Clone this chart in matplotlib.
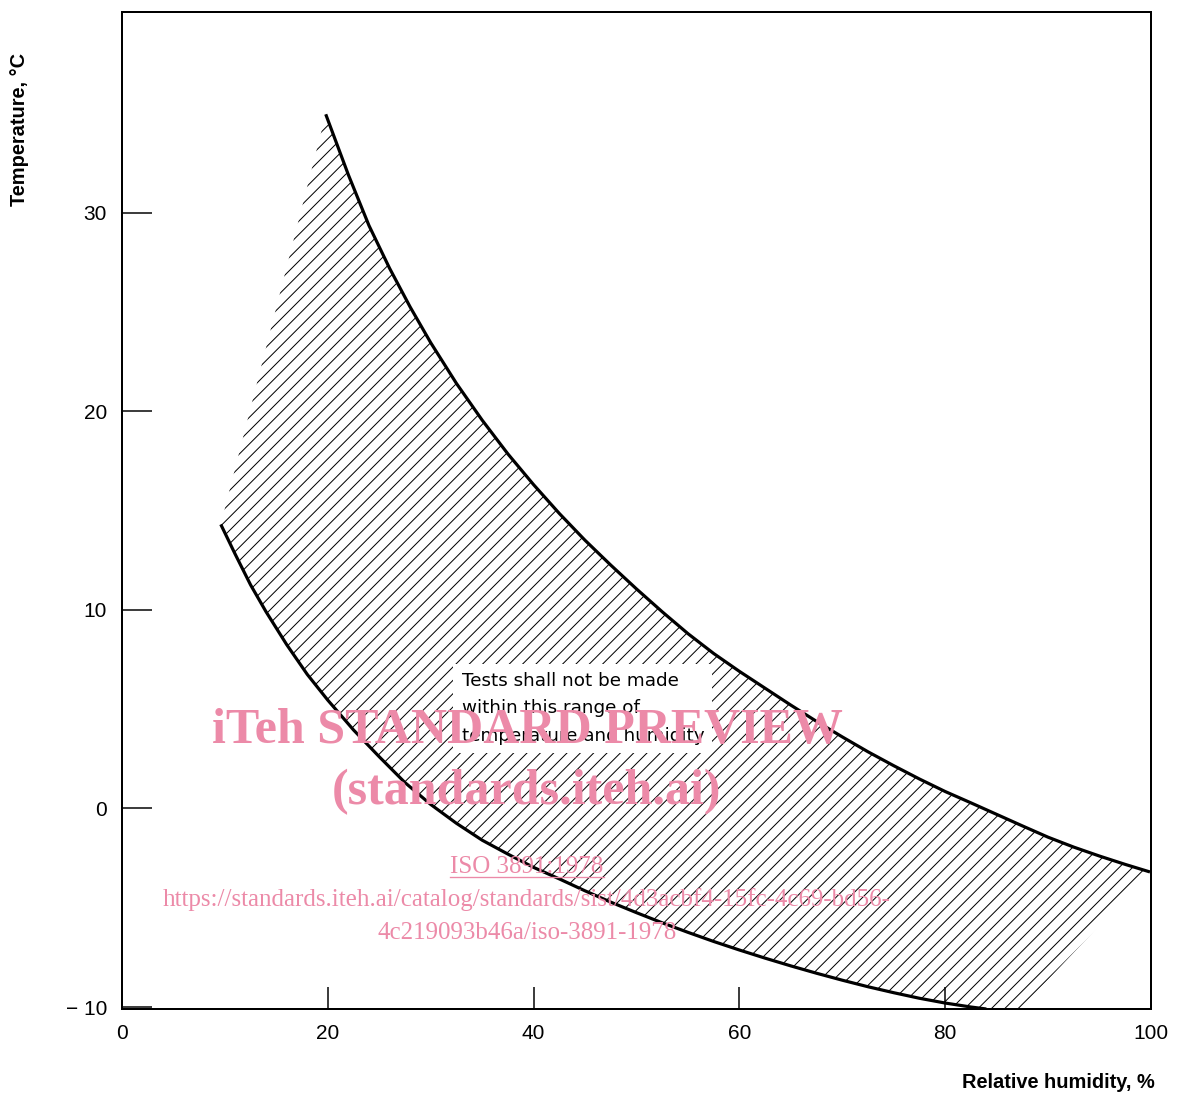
import matplotlib
matplotlib.use("Agg")
import matplotlib.pyplot as plt
from matplotlib.lines import Line2D

# upper boundary
upper_rh = [19.8, 22.0, 24.0, 26.0, 28.0, 30.0, 32.5, 35.0, 37.5, 40.0, 42.5, 45.0,
            47.5, 50.0, 52.5, 55.0, 57.5, 60.0, 62.5, 65.0, 67.5, 70.0, 72.5, 75.0,
            77.5, 80.0, 82.5, 85.0, 87.5, 90.0, 92.5, 95.0, 97.5, 99.9]
upper_t = [34.95, 31.9, 29.35, 27.2, 25.25, 23.45, 21.4, 19.55, 17.85, 16.3, 14.85, 13.5,
           12.25, 11.05, 9.9, 8.8, 7.8, 6.9, 6.05, 5.2, 4.38, 3.6, 2.85, 2.15,
           1.48, 0.85, 0.28, -0.3, -0.88, -1.45, -1.95, -2.4, -2.82, -3.2]

# lower boundary
lower_rh = [9.6, 11.0, 12.5, 14.0, 16.0, 18.0, 20.0, 22.5, 25.0, 27.5, 30.0, 32.5,
            35.0, 37.5, 40.0, 42.5, 45.0, 47.5, 50.0, 52.5, 55.0, 57.5, 60.0, 62.5,
            65.0, 67.5, 70.0, 72.5, 75.0, 77.5, 80.0, 82.5, 84.0]
lower_t = [14.3, 12.8, 11.25, 9.9, 8.25, 6.75, 5.45, 3.95, 2.6, 1.3, 0.2, -0.75,
           -1.6, -2.3, -2.97, -3.55, -4.15, -4.72, -5.25, -5.76, -6.24, -6.7, -7.13, -7.54,
           -7.93, -8.3, -8.65, -8.98, -9.28, -9.56, -9.8, -10.0, -10.1]

# where hatching meets the bottom edge on the right
hatch_end_rh = 87.3
hatch_end_t = -10.1

xticks = [0, 20, 40, 60, 80, 100]
yticks = [-10, 0, 10, 20, 30]
ytick_labels = ["\u2212 10", "0", "10", "20", "30"]

note = "Tests shall not be made\nwithin this range of\ntemperature and humidity"
pink = "#EC8AA8"

plt.rcParams["hatch.linewidth"] = 0.6
plt.rcParams["font.family"] = ["Liberation Sans", "DejaVu Sans"]

W, H, DPI = 1191, 1093, 120
fig = plt.figure(figsize=(W / DPI, H / DPI), dpi=DPI)
ax = fig.add_axes([122 / W, 1 - 1009 / H, (1151 - 122) / W, (1009 - 12) / H])

# hatched band
poly_x = upper_rh + [hatch_end_rh] + lower_rh[::-1]
poly_y = upper_t + [hatch_end_t] + lower_t[::-1]
ax.fill(poly_x, poly_y, facecolor="none", edgecolor="black", linewidth=0, hatch="///")

ax.plot(upper_rh, upper_t, color="black", lw=1.9, solid_capstyle="butt", solid_joinstyle="round")
ax.plot(lower_rh, lower_t, color="black", lw=1.9, solid_capstyle="butt", solid_joinstyle="round")

ax.set_xlim(0, 100)
ax.set_ylim(-10.1, 40.1)
ax.set_xticks(xticks)
ax.set_xticklabels([str(v) for v in xticks])
ax.set_yticks(yticks)
ax.set_yticklabels(ytick_labels)
ax.tick_params(axis="y", direction="in", length=18, width=0.9, labelsize=12.5, pad=9)
ax.tick_params(axis="x", direction="in", length=13, width=0.9, labelsize=12.5, pad=9)
for s in ax.spines.values():
    s.set_linewidth(1.2)

ax.text(33.0, 6.85, note, ha="left", va="top", fontsize=11, linespacing=1.65,
        family=["DejaVu Sans"],
        bbox=dict(facecolor="white", edgecolor="none", pad=5))

fig.text(20 / W, 1 - 206 / H, "Temperature, \u00b0C", rotation=90, ha="center",
         va="bottom", fontsize=12, fontweight="bold")
fig.text(1155 / W, 1 - 1083 / H, "Relative humidity, %", ha="right", va="center",
         fontsize=12, fontweight="bold")

# watermark
serif = ["Liberation Serif", "DejaVu Serif"]
cx = 527 / W
fig.text(cx, 1 - 731 / H, "iTeh STANDARD PREVIEW", ha="center", va="center",
         fontsize=30, fontweight="bold", color=pink, family=serif)
fig.text(cx, 1 - 792 / H, "(standards.iteh.ai)", ha="center", va="center",
         fontsize=30, fontweight="bold", color=pink, family=serif)
iso = fig.text(cx, 1 - 867 / H, "ISO 3891:1978", ha="center", va="center",
               fontsize=15, color=pink, family=serif)
fig.text(cx, 1 - 900 / H,
         "https://standards.iteh.ai/catalog/standards/sist/4d3acbf4-15fc-4c69-bd56-",
         ha="center", va="center", fontsize=15, color=pink, family=serif)
fig.text(cx, 1 - 933 / H, "4c219093b46a/iso-3891-1978", ha="center", va="center",
         fontsize=15, color=pink, family=serif)

fig.canvas.draw()
bb = iso.get_window_extent()
fy = (bb.y0 + 1) / H
fig.add_artist(Line2D([bb.x0 / W, bb.x1 / W], [fy, fy], color=pink, lw=0.8))

fig.savefig("out.png", dpi=DPI)
